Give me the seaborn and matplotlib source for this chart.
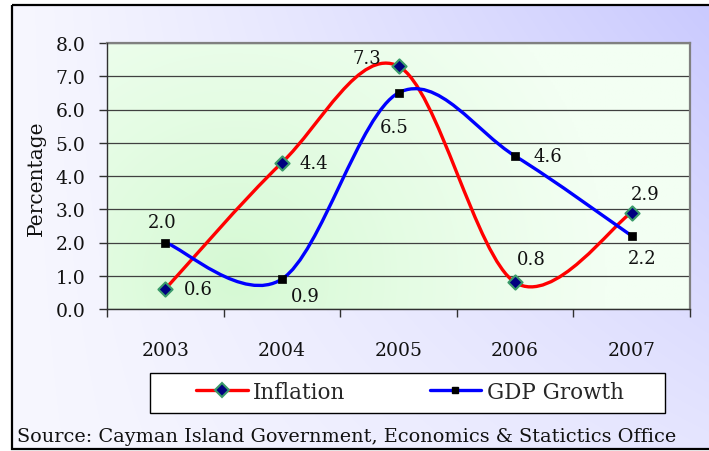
import numpy as np
import pandas as pd
import matplotlib
matplotlib.use("Agg")
import matplotlib.pyplot as plt
import seaborn as sns
from matplotlib.path import Path
from matplotlib.patches import PathPatch, Rectangle
from matplotlib.lines import Line2D

# ---------------- data ----------------
years = ["2003", "2004", "2005", "2006", "2007"]
inflation = [0.6, 4.4, 7.3, 0.8, 2.9]
gdp_growth = [2.0, 0.9, 6.5, 4.6, 2.2]
series_names = ["Inflation", "GDP Growth"]
y_ticks = [0, 1, 2, 3, 4, 5, 6, 7, 8]
y_label = "Percentage"
source_text = "Source: Cayman Island Government, Economics & Statictics Office"

# label offsets (pixels) for the data labels
infl_offsets = [(33, 0), (32, 0), (-32, 8), (16, 23), (13, 19)]
gdp_offsets = [(-3, 20), (23, -17), (-4, -34), (33, 0), (10, -22)]

sns.set_theme(style="white")
plt.rcParams['font.family'] = ['DejaVu Serif']

W, H = 709, 452
fig = plt.figure(figsize=(W / 100, H / 100), dpi=100)
fig.patch.set_facecolor("white")

# -------- figure background gradient + frame --------
bg = fig.add_axes([0, 0, 1, 1], zorder=-10)
bg.set_xlim(0, W)
bg.set_ylim(H, 0)
bg.axis("off")
gx = np.linspace(0, 1, 300)
gy = np.linspace(0, 1, 200)
GX, GY = np.meshgrid(gx, gy)
tt = np.clip(GX ** 1.1 * (1 - 0.6 * GY), 0, 1)
c0 = np.array([247, 247, 254]) / 255
c1 = np.array([202, 202, 255]) / 255
bimg = c0 + (c1 - c0) * tt[..., None]
bg.imshow(bimg, extent=[12, W, 450, 6], aspect="auto", origin="upper",
          interpolation="bilinear")
bg.add_patch(Rectangle((12, 6), W, 444, fill=False, ec="black", lw=1.6))
# legend box
bg.add_patch(Rectangle((150, 374), 515, 40, fc="white", ec="black", lw=1.0))

# -------- main axes --------
ax = fig.add_axes([107 / W, 1 - 310 / H, 583 / W, 266 / H])
n = len(years)
pos = np.arange(n)
ax.set_xlim(-0.5, n - 0.5)
ax.set_ylim(0, 8)

# plot-area gradient (green, strongest lower left)
px = np.linspace(0, 1, 300)
py = np.linspace(0, 1, 200)
PX, PY = np.meshgrid(px, py)
d = np.sqrt(((PX - 0.22) * 2.2) ** 2 + ((PY - 0.12) * 1.0) ** 2)
pt = np.clip(d / 1.4, 0, 1) ** 0.8
g0 = np.array([212, 249, 210]) / 255
g1 = np.array([243, 255, 243]) / 255
pimg = g0 + (g1 - g0) * pt[..., None]
ax.imshow(pimg, extent=[-0.5, n - 0.5, 0, 8], aspect="auto", origin="lower",
          zorder=0, interpolation="bilinear")


def smooth_path(xs, ys):
    pts = np.column_stack([xs, ys]).astype(float)
    m = len(pts)
    verts = [pts[0]]
    codes = [Path.MOVETO]
    for i in range(m - 1):
        p_prev = pts[i - 1] if i > 0 else pts[i]
        p_next = pts[i + 2] if i + 2 < m else pts[i + 1]
        cp1 = pts[i] + (pts[i + 1] - p_prev) / 6
        cp2 = pts[i + 1] - (p_next - pts[i]) / 6
        verts += [cp1, cp2, pts[i + 1]]
        codes += [Path.CURVE4] * 3
    return Path(verts, codes)


ax.add_patch(PathPatch(smooth_path(pos, inflation), fill=False, ec="#ff0000",
                       lw=2.4, joinstyle="round", capstyle="round", zorder=3))
ax.add_patch(PathPatch(smooth_path(pos, gdp_growth), fill=False, ec="#0000ff",
                       lw=2.4, joinstyle="round", capstyle="round", zorder=3))

df = pd.DataFrame({"pos": pos, "inflation": inflation, "gdp": gdp_growth})
sns.scatterplot(data=df, x="pos", y="inflation", marker="D", s=52,
                color="#000080", edgecolor="#3a9a6a", linewidth=1.5,
                zorder=4, ax=ax, legend=False)
sns.scatterplot(data=df, x="pos", y="gdp", marker="s", s=30,
                color="black", edgecolor="black", linewidth=0.5,
                zorder=4, ax=ax, legend=False)

for i in range(n):
    ax.annotate(f"{inflation[i]:.1f}", (pos[i], inflation[i]),
                xytext=infl_offsets[i], textcoords="offset pixels",
                ha="center", va="center", fontsize=13, color="#111111", zorder=5)
    ax.annotate(f"{gdp_growth[i]:.1f}", (pos[i], gdp_growth[i]),
                xytext=gdp_offsets[i], textcoords="offset pixels",
                ha="center", va="center", fontsize=13, color="#111111", zorder=5)

# axes styling
ax.set_xlabel("")
ax.set_ylabel("")
ax.set_yticks(y_ticks)
ax.set_yticklabels([f"{v:.1f}" for v in y_ticks])
ax.set_xticks(np.arange(-0.5, n, 1.0))
ax.set_xticklabels([])
ax.set_xticks(pos, minor=True)
ax.set_xticklabels(years, minor=True)
ax.tick_params(axis="x", which="major", length=6, width=1, color="#303030",
               direction="out", bottom=True)
ax.tick_params(axis="x", which="minor", length=0, pad=23, labelsize=13.5,
               labelcolor="#111111", bottom=True)
ax.tick_params(axis="y", length=6, width=1, color="#303030", direction="out",
               pad=9.5, labelsize=13.5, labelcolor="#111111", left=True)
ax.yaxis.grid(True, color="#404040", lw=0.9, zorder=1)
ax.xaxis.grid(False)
for side in ["left", "bottom"]:
    ax.spines[side].set_color("#303030")
    ax.spines[side].set_linewidth(1.0)
for side in ["top", "right"]:
    ax.spines[side].set_color("#808080")
    ax.spines[side].set_linewidth(1.6)
ax.spines["left"].set_zorder(6)
ax.spines["bottom"].set_zorder(6)

fig.text(36 / W, 1 - 178 / H, y_label, rotation=90, ha="center", va="center",
         fontsize=14.5, color="#111111")

# legend
handles = [
    Line2D([], [], color="#ff0000", lw=2.4, marker="D", markersize=7,
           markerfacecolor="#000080", markeredgecolor="#3a9a6a", markeredgewidth=1.5),
    Line2D([], [], color="#0000ff", lw=2.4, marker="s", markersize=5,
           markerfacecolor="black", markeredgecolor="black"),
]
fig.legend(handles, series_names, loc="center", bbox_to_anchor=(410 / W, 1 - 393 / H),
           ncol=2, frameon=False, fontsize=15.5, handlelength=2.4, handletextpad=0.25,
           columnspacing=3.9, numpoints=1, borderpad=0, borderaxespad=0)

fig.text(17 / W, 1 - 437 / H, source_text, ha="left", va="center", fontsize=13.9,
         color="#111111")

fig.savefig("out.png", dpi=100)
